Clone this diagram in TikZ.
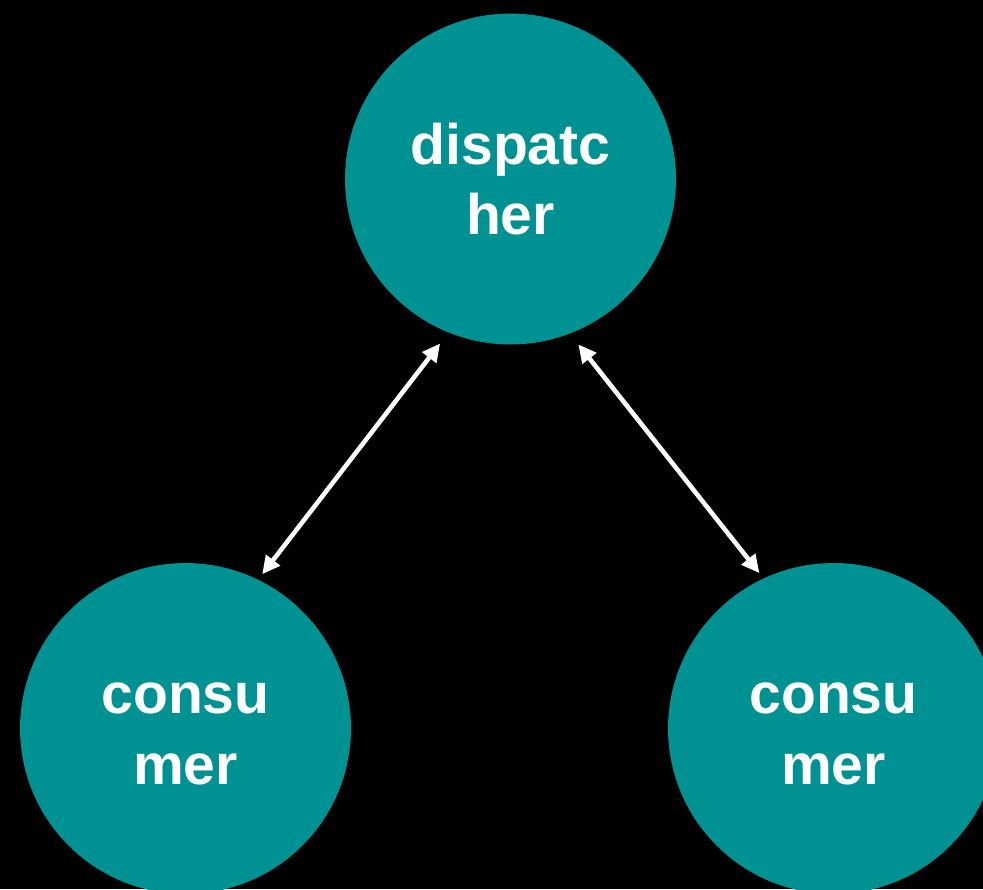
\documentclass[tikz,border=0pt]{standalone}
\usepackage{fontspec}
\setmainfont{Liberation Sans}
\usetikzlibrary{arrows.meta}
\tikzset{>={Triangle[length=0.36cm,width=0.34cm]}}
\definecolor{tealfill}{RGB}{0,146,146}

\begin{document}
\begin{tikzpicture}[x=0.02cm, y=-0.02cm,
    agent/.style={circle, fill=tealfill, minimum size=6.62cm, inner sep=0pt,
        align=center, text=white, font=\fontsize{32.5}{40}\selectfont\bfseries},
    link/.style={<->, white, line width=2.6pt, shorten <=0.27cm, shorten >=0.13cm}]
    \useasboundingbox (0,0) rectangle (983,889);
    \clip (0,0) rectangle (983,889);
    \fill[black] (0,0) rectangle (983,889);
    \node[agent] (disp) at (510.5,179) {dispatc\\her};
    \node[agent] (cons1) at (185.5,728.5) {\vphantom{d}consu\\mer};
    \node[agent] (cons2) at (833.5,728.5) {\vphantom{d}consu\\mer};
    \draw[link] (disp.248.5) -- (cons1.64.4);
    \draw[link] (disp.291.5) -- (cons2.115.6);
\end{tikzpicture}
\end{document}
